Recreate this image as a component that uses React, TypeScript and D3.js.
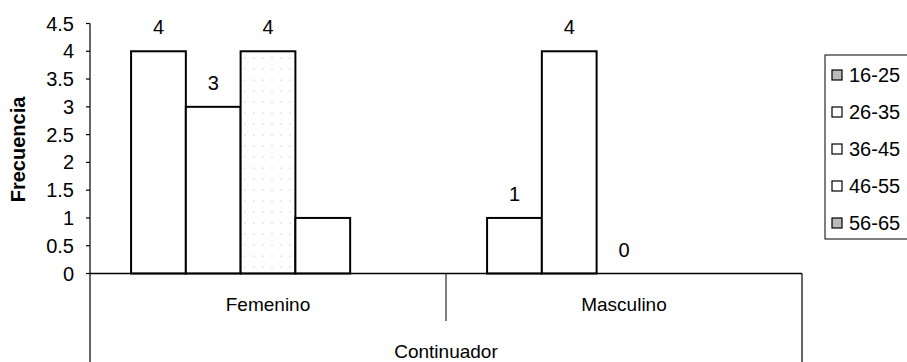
import React from 'react';
import * as d3 from 'd3';

// Frecuencia por grupo de edad, según sexo (Continuador)
const categories = ['Femenino', 'Masculino'];
const seriesNames = ['16-25', '26-35', '36-45', '46-55', '56-65'];
const serie1625: (number | null)[] = [4, 1];
const serie2635: (number | null)[] = [3, 4];
const serie3645: (number | null)[] = [4, 0];
const serie4655: (number | null)[] = [1, null];
const serie5665: (number | null)[] = [null, null];
// series whose data labels are switched on
const labelledSeries = ['16-25', '26-35', '36-45'];
const yTicks = [0, 0.5, 1, 1.5, 2, 2.5, 3, 3.5, 4, 4.5];
const yTitle = 'Frecuencia';
const groupTitle = 'Continuador';

const seriesValues = [serie1625, serie2635, serie3645, serie4655, serie5665];

const W = 907;
const H = 362;
const FONT = '"Liberation Sans", Arial, sans-serif';

export default function App() {
  const left = 90;
  const right = 802;
  const top = 23.5;
  const base = 273.5;

  const x0 = d3.scaleBand<string>().domain(categories).range([left, right]);
  const bw = x0.bandwidth();
  // Excel-style gap width of 150% split on both sides of each group
  const barW = bw / (seriesNames.length + 1.5);
  const x1 = d3
    .scaleBand<string>()
    .domain(seriesNames)
    .range([barW * 0.75, bw - barW * 0.75]);
  const y = d3.scaleLinear().domain([0, 4.5]).range([base, top]);

  const bars: React.ReactNode[] = [];
  const labels: React.ReactNode[] = [];
  categories.forEach((cat, ci) => {
    seriesNames.forEach((s, si) => {
      const v = seriesValues[si][ci];
      if (v === null || v === undefined) return;
      const bx = (x0(cat) as number) + (x1(s) as number);
      const bwid = x1.bandwidth();
      if (v > 0) {
        bars.push(
          <rect
            key={`b-${ci}-${si}`}
            x={bx}
            y={y(v)}
            width={bwid}
            height={base - y(v)}
            fill={si === 2 ? 'url(#dots)' : '#fff'}
            stroke="#000"
            strokeWidth={2}
          />
        );
      }
      if (labelledSeries.includes(s)) {
        labels.push(
          <text
            key={`l-${ci}-${si}`}
            x={bx + bwid / 2}
            y={y(v) - 17}
            textAnchor="middle"
            fontSize={20}
            fontFamily={FONT}
            fill="#000"
          >
            {v}
          </text>
        );
      }
    });
  });

  const legendX = 825;
  const legendY = 55;
  const legendStep = 37;

  return (
    <svg
      width={W}
      height={H}
      style={{ position: 'absolute', left: 0, top: 0, background: '#fff' }}
    >
      <defs>
        <pattern id="dots" width="9" height="11" patternUnits="userSpaceOnUse">
          <rect width="9" height="11" fill="#fff" />
          <circle cx="2" cy="3" r="0.6" fill="#aaa" />
        </pattern>
      </defs>
      <rect width={W} height={H} fill="#fff" />

      {bars}

      {/* value axis */}
      <line x1={left} x2={left} y1={top} y2={H} stroke="#000" strokeWidth={1.2} />
      {yTicks.map((t) => (
        <g key={`t-${t}`}>
          <line x1={left - 4} x2={left} y1={y(t)} y2={y(t)} stroke="#000" strokeWidth={1.2} />
          <text
            x={74}
            y={y(t) + 7}
            textAnchor="end"
            fontSize={20}
            fontFamily={FONT}
            fill="#000"
          >
            {t}
          </text>
        </g>
      ))}
      <text
        transform={`translate(25,${(top + base) / 2 + 1}) rotate(-90)`}
        textAnchor="middle"
        fontSize={20}
        fontWeight="bold"
        fontFamily={FONT}
        fill="#000"
      >
        {yTitle}
      </text>

      {/* category axis */}
      <line x1={left} x2={right} y1={base} y2={base} stroke="#000" strokeWidth={1.4} />
      <line x1={left + bw} x2={left + bw} y1={base} y2={321} stroke="#000" strokeWidth={1} />
      <line x1={right} x2={right} y1={base} y2={H} stroke="#000" strokeWidth={1.2} />
      {categories.map((c) => (
        <text
          key={`c-${c}`}
          x={(x0(c) as number) + bw / 2}
          y={311}
          textAnchor="middle"
          fontSize={19}
          fontFamily={FONT}
          fill="#000"
        >
          {c}
        </text>
      ))}
      <text
        x={(left + right) / 2}
        y={358}
        textAnchor="middle"
        fontSize={19}
        fontFamily={FONT}
        fill="#000"
      >
        {groupTitle}
      </text>

      {labels}

      {/* legend */}
      <rect
        x={legendX}
        y={legendY}
        width={W - legendX + 10}
        height={184}
        fill="#fff"
        stroke="#000"
        strokeWidth={1}
      />
      {seriesNames.map((s, i) => {
        const cy = legendY + 20 + i * legendStep;
        return (
          <g key={`lg-${s}`}>
            <rect
              x={legendX + 7}
              y={cy - 5}
              width={10}
              height={10}
              fill={i === 0 || i === 4 ? '#bbb' : '#fff'}
              stroke="#000"
              strokeWidth={1.2}
            />
            <text
              x={legendX + 24}
              y={cy + 7}
              fontSize={20}
              fontFamily={FONT}
              fill="#000"
            >
              {s}
            </text>
          </g>
        );
      })}
    </svg>
  );
}
